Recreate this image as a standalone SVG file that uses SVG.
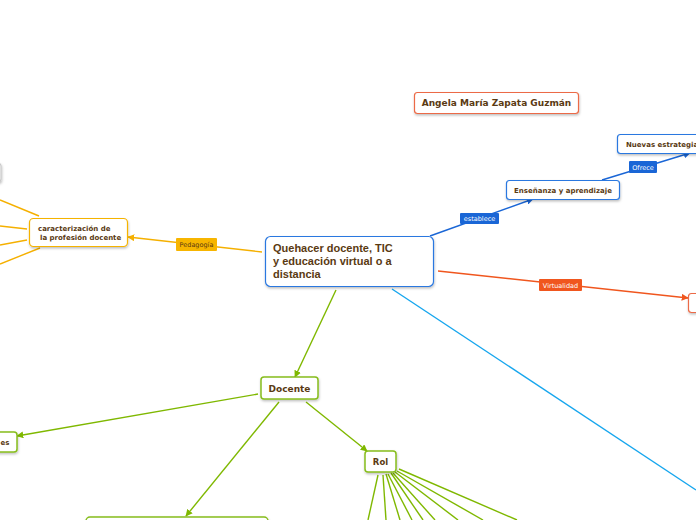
<svg xmlns="http://www.w3.org/2000/svg" width="696" height="520" viewBox="0 0 696 520">
<defs>
  <filter id="sh" x="-20%" y="-20%" width="140%" height="160%">
    <feDropShadow dx="0.5" dy="1.5" stdDeviation="1" flood-color="#000" flood-opacity="0.25"/>
  </filter>
  <marker id="aB" viewBox="0 0 10 10" refX="9" refY="5" markerWidth="7" markerHeight="7" markerUnits="userSpaceOnUse" orient="auto"><path d="M0,0 L10,5 L0,10 z" fill="#1a66d6"/></marker>
  <marker id="aO" viewBox="0 0 10 10" refX="9" refY="5" markerWidth="7" markerHeight="7" markerUnits="userSpaceOnUse" orient="auto"><path d="M0,0 L10,5 L0,10 z" fill="#f5b000"/></marker>
  <marker id="aR" viewBox="0 0 10 10" refX="9" refY="5" markerWidth="7" markerHeight="7" markerUnits="userSpaceOnUse" orient="auto"><path d="M0,0 L10,5 L0,10 z" fill="#f0561e"/></marker>
  <marker id="aG" viewBox="0 0 10 10" refX="9" refY="5" markerWidth="7" markerHeight="7" markerUnits="userSpaceOnUse" orient="auto"><path d="M0,0 L10,5 L0,10 z" fill="#7fb800"/></marker>
</defs>
<style>
  .box{fill:#fff;stroke-width:1.2;filter:url(#sh)}
  .bl{stroke:#2a78e0}
  .or{stroke:#f5b300}
  .rd{stroke:#ec6a46}
  .gr{stroke:#86bd1c;stroke-width:1.5}
  .gy{stroke:#c8c8c8}
  .t{font-family:"DejaVu Sans",Verdana,sans-serif;font-weight:bold;fill:#5a3a12}
  .tm{font-family:"Liberation Sans",Arial,sans-serif;font-weight:bold;fill:#5a3a12;font-size:11px}
  .lbl{font-family:"DejaVu Sans",Verdana,sans-serif;font-size:6.5px;text-anchor:middle}
  .c{fill:none;stroke-width:1.4}
</style>
<rect width="696" height="520" fill="#fff"/>

<g id="connectors">
  <path class="c" d="M430,236 L533,199" stroke="#1a66d6" marker-end="url(#aB)"/>
  <path class="c" d="M602,180 L690,153" stroke="#1a66d6" marker-end="url(#aB)"/>
  <path class="c" d="M438,271 L688,298" stroke="#f0561e" marker-end="url(#aR)"/>
  <path class="c" d="M262,252 L128,237" stroke="#f5b000" marker-end="url(#aO)"/>
  <path class="c" d="M39,216 L0,200" stroke="#f5b000"/>
  <path class="c" d="M27,229 L0,226" stroke="#f5b000"/>
  <path class="c" d="M27,240 L0,245" stroke="#f5b000"/>
  <path class="c" d="M40,248 L0,264" stroke="#f5b000"/>
  <path class="c" d="M392,289 L696,490" stroke="#16a6ee"/>
  <path class="c" d="M336,290 L295,377" stroke="#7fb800" marker-end="url(#aG)"/>
  <path class="c" d="M258,394 L17,436" stroke="#7fb800" marker-end="url(#aG)"/>
  <path class="c" d="M279,402 L186,516" stroke="#7fb800" marker-end="url(#aG)"/>
  <path class="c" d="M306,402 L367,451" stroke="#7fb800" marker-end="url(#aG)"/>
  <g stroke="#7fb800" stroke-width="1.4" fill="none">
    <path d="M378,475 L368,520"/>
    <path d="M383,475 L386,520"/>
    <path d="M386,474 L400,520"/>
    <path d="M388,474 L412,520"/>
    <path d="M391,473 L423,520"/>
    <path d="M393,473 L435,520"/>
    <path d="M395,472 L458,520"/>
    <path d="M397,471 L483,520"/>
    <path d="M399,469 L517,520"/>
  </g>
  <g id="lbl-establece"><rect x="460" y="213" width="39" height="11" rx="1" fill="#1a66d6"/><text class="lbl" x="479.5" y="221" fill="#fff">establece</text></g>
  <g id="lbl-ofrece"><rect x="629" y="161" width="28" height="12" rx="1" fill="#1a66d6"/><text class="lbl" x="643" y="169.5" fill="#fff">Ofrece</text></g>
  <g id="lbl-virtualidad"><rect x="539" y="279" width="43" height="12" rx="1" fill="#f0561e"/><text class="lbl" x="560.5" y="287.5" fill="#fff">Virtualidad</text></g>
  <g id="lbl-pedagogia"><rect x="176" y="238" width="41" height="13" rx="1" fill="#f7b500"/><text class="lbl" x="196.5" y="247" fill="#5a3a12">Pedagogía</text></g>
</g>

<g id="n-left-gray"><rect class="box gy" x="-60" y="163" width="61" height="19" rx="3"/></g>

<g id="n-main">
  <rect class="box bl" x="265.5" y="236.5" width="168" height="50" rx="5"/>
  <text class="tm" x="273" y="252">Quehacer docente, TIC</text>
  <text class="tm" x="273" y="265">y educación virtual o a</text>
  <text class="tm" x="273" y="278">distancia</text>
</g>

<g id="n-author">
  <rect class="box rd" x="414.5" y="92.5" width="164" height="21" rx="3"/>
  <text class="t" x="496.5" y="106" font-size="9" text-anchor="middle">Angela María Zapata Guzmán</text>
</g>

<g id="n-ensenanza">
  <rect class="box bl" x="506.5" y="180.5" width="113" height="19" rx="3"/>
  <text class="t" x="563" y="193" font-size="7" text-anchor="middle">Enseñanza y aprendizaje</text>
</g>

<g id="n-nuevas">
  <rect class="box bl" x="617.5" y="134.5" width="100" height="19" rx="3"/>
  <text class="t" x="626" y="147" font-size="7">Nuevas estrategias</text>
</g>

<g id="n-virtual-target">
  <rect class="box rd" x="688.5" y="293.5" width="30" height="19" rx="3"/>
</g>

<g id="n-caracterizacion">
  <rect class="box or" x="29.5" y="218.5" width="98" height="28" rx="4"/>
  <text class="t" x="38" y="231" font-size="7">caracterización de</text>
  <text class="t" x="40" y="240" font-size="7">la profesión docente</text>
</g>

<g id="n-docente">
  <rect class="box gr" x="261" y="377" width="57" height="22" rx="3"/>
  <text class="t" x="289.5" y="392" font-size="9" text-anchor="middle">Docente</text>
</g>

<g id="n-left-es">
  <rect class="box gr" x="-40" y="432" width="57" height="20" rx="3"/>
  <text class="t" x="9.5" y="445" font-size="7" text-anchor="end">es</text>
</g>

<g id="n-rol">
  <rect class="box gr" x="365" y="451" width="31" height="21" rx="3"/>
  <text class="t" x="380.5" y="465" font-size="8.5" text-anchor="middle">Rol</text>
</g>

<g id="n-bottom">
  <rect class="box gr" x="86" y="517" width="182" height="30" rx="4"/>
</g>
</svg>
